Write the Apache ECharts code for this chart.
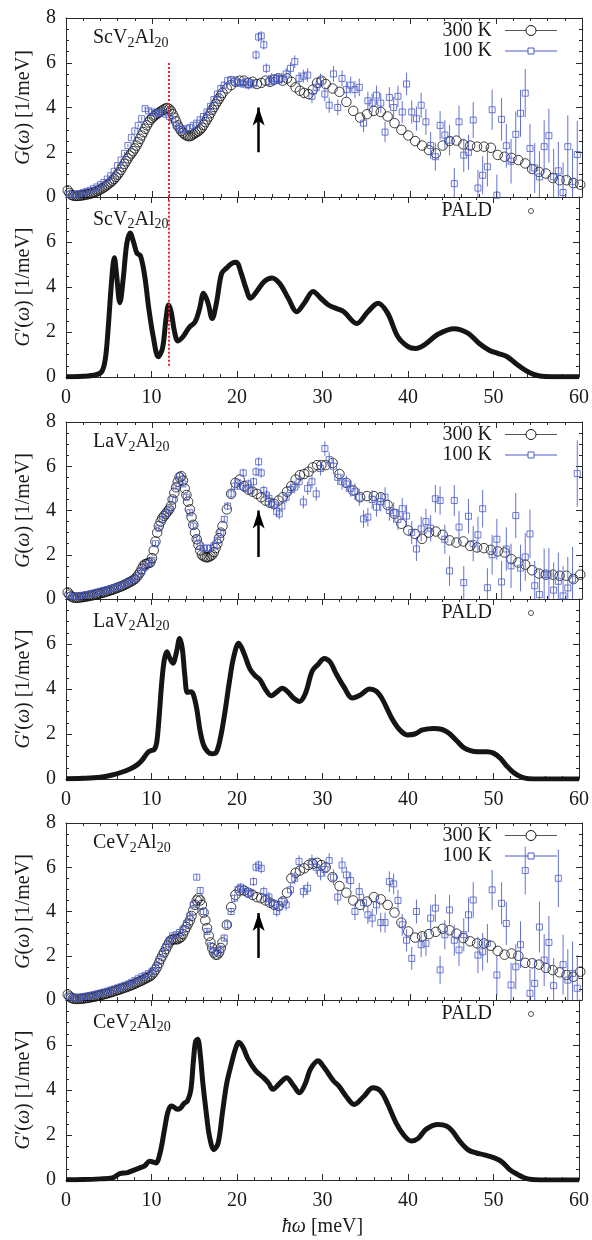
<!DOCTYPE html>
<html><head><meta charset="utf-8">
<script src="https://cdn.jsdelivr.net/npm/echarts@6/dist/echarts.min.js"></script>
<style>html,body{margin:0;padding:0;background:#fff}#c{width:592px;height:1240px}</style>
</head><body><div id="c"></div>
<script>
// ---------- DATA ----------
const compoundNames = ['ScV2Al20', 'LaV2Al20', 'CeV2Al20'];
const legend300 = '300 K', legend100 = '100 K', legendPald = 'PALD';
const xTicks = [0, 10, 20, 30, 40, 50, 60];
const yTicks = [0, 2, 4, 6, 8];

// 300 K energies (meV)
const E300 = [0.2,0.4,0.6,0.8,1.0,1.2,1.4,1.6,1.8,2.0,
 2.2,2.4,2.6,2.8,3.0,3.2,3.4,3.6,3.8,4.0,
 4.2,4.4,4.6,4.8,5.0,5.2,5.4,5.6,5.8,6.0,
 6.2,6.4,6.6,6.8,7.0,7.2,7.4,7.6,7.8,8.0,
 8.2,8.4,8.6,8.8,9.0,9.2,9.4,9.6,9.8,10.0,
 10.2,10.4,10.6,10.8,11.0,11.2,11.4,11.6,11.8,12.0,
 12.2,12.4,12.6,12.8,13.0,13.2,13.4,13.6,13.8,14.0,
 14.2,14.4,14.6,14.8,15.0,15.2,15.4,15.6,15.8,16.0,
 16.2,16.4,16.6,16.8,17.0,17.2,17.4,17.6,17.8,18.0,
 18.2,18.7,19.2,19.7,20.2,
 20.7,21.2,21.7,22.2,22.7,23.2,23.7,24.2,24.7,25.2,
 25.7,26.2,26.7,27.2,27.7,28.2,28.7,29.2,29.7,30.2,
 31.0,31.8,32.6,33.4,34.2,35.0,35.8,36.6,37.4,38.2,
 39.0,39.8,40.6,41.4,42.2,43.0,43.8,44.6,45.4,46.2,
 47.0,47.8,48.6,49.4,50.2,51.0,51.8,52.6,53.4,54.2,
 55.0,55.8,56.6,57.4,58.2,59.0,59.8];

const sc300 = [0.3,0.18,0.1,0.07,0.05,0.05,0.05,0.06,0.07,0.08,
 0.1,0.11,0.13,0.15,0.17,0.2,0.22,0.26,0.3,0.34,
 0.38,0.43,0.48,0.54,0.6,0.66,0.73,0.81,0.9,1.0,
 1.1,1.22,1.35,1.48,1.6,1.73,1.85,1.95,2.05,2.17,
 2.3,2.45,2.6,2.75,2.9,3.05,3.2,3.33,3.45,3.53,
 3.6,3.66,3.72,3.77,3.82,3.87,3.92,3.96,3.98,3.93,
 3.85,3.7,3.55,3.38,3.2,3.07,2.95,2.87,2.8,2.75,
 2.72,2.72,2.75,2.8,2.85,2.9,2.95,3.02,3.1,3.22,
 3.35,3.47,3.6,3.75,3.9,4.02,4.15,4.28,4.4,4.52,
 4.65,4.85,5.0,5.15,5.2,
 5.2,5.1,5.15,5.05,5.1,5.2,5.15,5.25,5.3,5.2,
 5.3,5.15,4.9,4.75,4.65,4.6,4.8,5.1,5.2,5.05,
 4.85,4.7,4.25,3.85,3.55,3.7,3.85,3.8,3.6,3.3,
 3.0,2.75,2.5,2.3,2.1,1.95,2.3,2.5,2.52,2.35,
 2.3,2.25,2.25,2.2,1.88,1.8,1.75,1.65,1.5,1.25,
 1.12,1.05,0.85,0.75,0.75,0.62,0.55];

const la300 = [0.3,0.2,0.12,0.08,0.06,0.06,0.06,0.07,0.08,0.09,
 0.1,0.12,0.13,0.15,0.16,0.18,0.2,0.22,0.24,0.26,
 0.28,0.3,0.32,0.35,0.37,0.4,0.42,0.45,0.48,0.51,
 0.54,0.57,0.6,0.64,0.68,0.72,0.76,0.8,0.85,0.9,
 0.98,1.08,1.2,1.35,1.5,1.57,1.6,1.62,1.65,1.85,
 2.2,2.6,3.0,3.3,3.5,3.65,3.75,3.85,3.95,4.05,
 4.2,4.5,4.8,5.05,5.3,5.5,5.55,5.35,5.0,4.7,
 4.4,4.05,3.7,3.35,3.0,2.7,2.45,2.2,2.0,1.93,
 1.9,1.88,1.9,1.94,2.0,2.12,2.3,2.5,2.75,3.0,
 3.3,4.05,4.75,5.25,5.4,
 5.1,4.95,4.85,4.75,4.6,4.45,4.35,4.3,4.45,4.6,
 4.85,5.1,5.4,5.6,5.65,5.75,5.95,6.05,6.05,6.05,
 6.15,5.65,5.25,4.9,4.6,4.65,4.65,4.6,4.25,3.85,
 3.4,3.1,2.94,2.72,3.0,3.05,2.9,2.65,2.55,2.6,
 2.4,2.33,2.3,2.22,2.15,2.1,1.8,1.65,1.55,1.3,
 1.15,1.1,1.1,1.05,1.05,0.9,1.1];

const ce300 = [0.25,0.16,0.1,0.07,0.05,0.05,0.05,0.05,0.06,0.07,
 0.08,0.09,0.1,0.12,0.13,0.15,0.16,0.18,0.2,0.22,
 0.24,0.26,0.28,0.3,0.32,0.35,0.37,0.4,0.42,0.45,
 0.47,0.5,0.53,0.56,0.58,0.61,0.64,0.67,0.7,0.74,
 0.77,0.81,0.85,0.88,0.92,0.96,1.0,1.04,1.08,1.15,
 1.25,1.37,1.5,1.67,1.85,2.0,2.15,2.3,2.45,2.6,
 2.7,2.74,2.75,2.74,2.75,2.8,2.85,2.98,3.15,3.3,
 3.45,3.6,3.8,4.05,4.3,4.5,4.6,4.5,4.3,3.95,
 3.6,3.25,2.9,2.6,2.35,2.15,2.05,2.05,2.15,2.35,
 2.6,3.4,4.2,4.75,4.95,
 4.95,4.85,4.75,4.65,4.6,4.5,4.4,4.3,4.25,4.45,
 4.85,5.5,5.75,5.85,5.95,6.1,6.15,6.2,6.1,6.0,
 5.55,5.15,4.85,4.5,4.3,4.45,4.65,4.55,4.3,3.95,
 3.5,3.1,2.82,2.88,2.98,3.08,3.22,3.15,3.0,2.8,
 2.65,2.56,2.56,2.45,2.22,2.05,2.1,2.0,1.68,1.66,
 1.6,1.45,1.35,1.25,1.13,1.05,1.28];

// 100 K energies (meV) and error bars
const E100 = [0.4,0.8,1.2,1.6,2.0,2.4,2.8,3.2,3.6,4.0,
 4.4,4.8,5.2,5.6,6.0,6.4,6.8,7.2,7.6,8.0,
 8.4,8.8,9.2,9.6,10.0,10.4,10.8,11.2,11.6,12.0,
 12.4,12.8,13.2,13.6,14.0,14.4,14.8,15.2,15.6,16.0,
 16.4,16.8,17.2,17.6,18.0,18.4,18.8,19.2,19.6,20.0,
 20.3,20.6,20.9,21.2,21.5,21.8,22.1,22.4,22.7,23.0,
 23.3,23.6,23.9,24.2,24.5,24.8,25.1,
 25.6,26.1,26.6,27.1,27.6,28.1,28.6,29.1,29.6,30.1,
 30.6,31.1,31.6,32.1,32.6,33.1,33.6,34.1,34.6,35.1,
 35.6,36.1,36.6,37.1,37.6,38.1,38.6,39.1,39.6,
 40.2,40.75,41.3,41.85,42.4,42.95,43.5,44.05,44.6,45.15,
 45.7,46.25,46.8,47.35,47.9,48.45,49.0,49.55,50.1,50.65,
 51.2,51.75,52.3,52.85,53.4,53.95,54.5,55.05,55.6,56.15,
 56.7,57.25,57.8,58.35,58.9,59.45];

const err100 = [0.04,0.04,0.04,0.04,0.04,0.05,0.05,0.05,0.05,0.05,
 0.06,0.06,0.06,0.06,0.07,0.07,0.07,0.07,0.08,0.08,
 0.08,0.08,0.09,0.09,0.09,0.1,0.1,0.1,0.1,0.11,
 0.11,0.11,0.12,0.12,0.12,0.13,0.13,0.13,0.14,0.14,
 0.14,0.15,0.15,0.15,0.16,0.16,0.17,0.17,0.18,0.18,
 0.18,0.19,0.19,0.2,0.2,0.2,0.21,0.21,0.22,0.22,
 0.22,0.23,0.23,0.24,0.24,0.25,0.25,
 0.26,0.27,0.28,0.28,0.29,0.3,0.31,0.31,0.32,0.33,
 0.34,0.35,0.35,0.36,0.37,0.38,0.38,0.39,0.4,0.41,
 0.42,0.43,0.44,0.45,0.46,0.47,0.48,0.49,0.5,
 0.52,0.54,0.56,0.58,0.6,0.62,0.64,0.66,0.68,0.7,
 0.72,0.75,0.78,0.8,0.82,0.85,0.88,0.9,0.92,0.95,
 0.98,1.0,1.02,1.05,1.08,1.1,1.12,1.15,1.18,1.2,
 1.25,1.3,1.35,1.4,1.45,1.5];

const sc100 = [0.12,0.1,0.12,0.15,0.2,0.25,0.3,0.37,0.45,0.55,
 0.65,0.8,0.95,1.15,1.4,1.65,1.95,2.3,2.65,2.95,
 3.2,3.5,3.95,3.85,3.8,3.75,3.75,3.8,3.7,3.6,
 3.45,3.2,3.05,3.0,3.05,3.1,3.2,3.3,3.45,3.6,
 3.8,4.05,4.35,4.6,4.85,5.0,5.2,5.25,5.15,5.1,
 5.1,5.05,5.15,5.0,5.1,5.05,6.35,7.15,7.2,6.8,
 5.75,5.15,5.3,5.2,5.3,5.25,5.3,
 5.5,5.75,6.05,5.3,5.4,5.45,4.5,4.9,5.2,4.6,
 4.1,5.5,4.0,5.3,4.8,5.0,4.8,4.9,3.3,4.3,
 4.2,4.55,4.2,2.9,4.45,4.0,4.5,3.8,5.05,
 3.8,3.5,4.1,3.36,2.3,1.8,3.2,2.77,2.54,0.6,
 3.36,1.87,2.0,3.44,0.4,0.97,1.35,3.9,0.08,3.47,
 2.29,1.6,2.8,3.74,4.64,2.17,1.3,0.9,2.25,2.74,
 0.9,1.17,0.2,2.25,0.7,1.9];

const la100 = [0.15,0.12,0.12,0.14,0.17,0.2,0.23,0.27,0.31,0.35,
 0.39,0.43,0.47,0.52,0.57,0.62,0.68,0.75,0.82,0.92,
 1.05,1.25,1.45,1.6,1.75,2.5,3.2,3.6,3.85,4.05,
 4.5,5.1,5.55,5.2,4.6,3.9,3.3,2.75,2.4,2.3,
 2.3,2.3,2.4,2.65,3.0,3.6,4.2,4.75,5.1,5.25,
 5.1,5.7,5.0,5.2,4.9,5.3,5.75,6.2,5.7,4.9,
 4.7,4.55,4.3,4.25,3.95,3.85,4.2,
 4.6,4.95,5.06,5.3,4.38,5.0,5.3,4.75,5.9,6.8,
 6.3,6.0,5.5,5.3,5.2,5.0,4.85,4.6,3.62,3.7,
 4.5,4.15,4.4,4.6,4.0,3.9,3.6,4.08,3.75,
 3.0,2.26,3.17,3.5,3.2,4.53,4.45,2.7,1.27,4.45,
 3.25,0.74,3.74,2.5,2.9,4.08,0.51,2.0,2.7,0.77,
 2.26,1.5,3.77,1.4,1.9,2.94,0.6,0.2,1.1,1.1,
 0.4,0.8,0.14,0.5,0.9,5.67];

const ce100 = [0.15,0.1,0.1,0.12,0.15,0.18,0.21,0.24,0.28,0.32,
 0.36,0.4,0.45,0.5,0.55,0.6,0.66,0.72,0.8,0.88,
 0.96,1.05,1.12,1.2,1.3,1.45,1.75,2.1,2.4,2.7,
 2.9,2.95,3.05,3.2,3.45,3.8,4.3,5.55,4.95,4.0,
 3.1,2.45,2.2,2.15,2.3,2.8,3.4,4.0,4.6,5.0,
 5.1,5.0,4.9,4.8,4.85,5.35,6.0,6.1,5.95,4.9,
 4.6,4.65,4.4,4.3,4.0,4.2,4.45,
 4.3,4.98,5.5,6.26,4.9,5.05,6.26,6.0,5.73,5.9,
 6.3,5.55,4.65,6.1,5.65,5.4,4.0,4.9,4.4,3.85,
 3.7,4.3,3.5,3.5,5.35,5.25,4.5,3.4,2.7,
 1.88,4.0,2.5,2.56,3.7,4.15,1.36,2.95,4.07,2.7,
 2.26,2.95,3.85,4.52,2.03,2.18,2.56,4.98,1.13,4.37,
 3.46,0.68,1.5,2.5,5.85,0.3,0.75,3.3,1.8,2.6,
 0.65,5.5,1.6,0.9,1.2,0.53];

// PALD calculated G'(w)
const scPaldE = [0,2.0,3.5,4.2,4.6,4.9,5.2,5.5,5.65,5.9,6.3,6.7,7.1,7.5,7.9,8.3,8.7,9.2,9.7,10.2,
 10.8,11.3,11.7,12.0,12.3,12.7,13.1,13.7,14.4,15.1,15.6,16.1,16.6,17.1,17.6,18.2,18.8,19.4,19.9,20.5,
 21.0,21.6,22.3,23.2,24.1,25.0,26.0,27.0,27.9,28.9,29.8,30.7,31.6,32.5,34.0,35.3,36.5,37.6,38.8,40.0,
 40.9,42.0,43.5,45.4,47.0,48.3,49.5,50.5,51.6,52.6,53.8,54.8,56.0,58.0,60.0];
const scPaldG = [0.01,0.03,0.1,0.25,0.8,2.0,3.6,5.0,5.3,4.6,3.3,4.4,5.9,6.4,6.0,5.5,5.4,4.5,3.0,1.8,
 0.9,1.3,2.6,3.2,2.9,2.0,1.6,1.8,2.2,2.45,3.0,3.72,3.3,2.6,3.3,4.6,4.85,5.05,5.1,4.6,
 4.0,3.5,3.8,4.25,4.4,4.15,3.5,2.9,3.3,3.8,3.5,3.2,3.05,2.9,2.38,2.9,3.28,2.85,1.8,1.35,
 1.27,1.45,1.9,2.15,1.95,1.5,1.19,1.05,0.9,0.6,0.28,0.1,0.02,0.01,0.01];

const laPaldE = [0,2,4,5.4,6.5,7.6,8.4,8.9,9.4,9.7,10.0,10.3,10.6,10.9,11.2,11.5,11.8,12.1,12.5,12.9,
 13.3,13.6,13.9,14.2,14.6,14.9,15.3,15.7,16.1,16.6,17.1,17.6,18.1,18.6,19.1,19.6,20.2,20.8,21.5,22.1,
 22.7,23.3,24.0,24.6,25.3,26.0,26.6,27.3,28.0,28.8,29.5,30.2,30.9,31.5,32.5,33.5,34.5,35.5,36.3,37.0,
 38.1,39.0,39.9,40.8,41.7,43.0,44.0,44.8,45.7,46.5,47.3,48.1,49.2,50.0,50.8,51.5,52.3,53.2,54.1,55.5,58,60];
const laPaldG = [0.01,0.03,0.08,0.18,0.3,0.47,0.65,0.84,1.1,1.22,1.27,1.3,1.6,2.8,4.3,5.3,5.66,5.4,5.15,5.6,
 6.25,5.8,4.6,3.85,3.88,3.75,3.1,2.1,1.5,1.2,1.12,1.2,1.9,3.0,4.3,5.4,6.03,5.6,4.9,4.6,
 4.4,4.0,3.7,3.85,4.03,3.85,3.6,3.45,3.8,4.8,5.1,5.36,5.2,4.75,4.1,3.6,3.75,4.0,3.9,3.55,
 2.7,2.2,1.96,2.0,2.18,2.25,2.2,2.03,1.7,1.4,1.26,1.21,1.21,1.15,0.92,0.6,0.3,0.1,0.01,0.0,0.0,0.0];

const cePaldE = [0,2,4,5.4,6.3,7.2,8.1,8.7,9.2,9.8,10.5,11.0,11.5,11.9,12.3,12.6,13.0,13.4,13.8,14.2,
 14.6,14.9,15.15,15.4,15.7,16.0,16.4,16.8,17.3,17.8,18.3,18.8,19.3,19.8,20.2,20.7,21.3,22.2,23.1,23.7,
 24.2,25.0,25.8,26.6,27.3,28.0,28.6,29.5,30.0,30.6,31.3,31.9,32.8,33.7,34.8,35.9,36.8,37.6,38.6,39.5,
 40.4,41.2,42.1,43.5,44.5,45.2,46.0,47.0,48.0,48.8,50.1,51.0,51.9,52.8,53.6,54.5,55.5,58,60];
const cePaldG = [0.01,0.02,0.05,0.09,0.28,0.33,0.46,0.55,0.63,0.83,0.76,1.2,2.2,3.0,3.29,3.25,3.14,3.2,3.4,3.51,
 4.0,5.3,6.15,6.26,5.6,4.33,3.0,1.9,1.35,1.65,3.0,4.3,5.1,5.8,6.12,5.9,5.37,4.85,4.55,4.3,
 4.03,4.3,4.55,4.2,3.88,4.3,4.93,5.3,5.1,4.78,4.4,4.18,3.7,3.36,3.7,4.1,3.95,3.4,2.54,2.0,
 1.73,1.85,2.25,2.47,2.4,2.17,1.75,1.35,1.2,1.13,0.98,0.8,0.46,0.25,0.1,0.02,0.0,0.0,0.0];

// annotations (meV / 1/meV)
const arrowE = [22.4, 22.4, 22.4];
const arrowFrom = [2.0, 1.9, 1.9];
const arrowTo = [4.0, 4.0, 3.93];
const markerE = 12.0;          // red dotted line, ScV2Al20 only
const markerTopG = 6.0;
const markerBottomP = 0.5;

// ---------- STYLE / LAYOUT ----------
const SERIF = "'Liberation Serif', 'DejaVu Serif', serif";
const BLUE = '#4a5bc6';
const INK = '#1a1a1a';
const GRIDS = [
  {top: 18, height: 179}, {top: 197, height: 180},
  {top: 422, height: 177}, {top: 599, height: 180},
  {top: 823, height: 177}, {top: 1000, height: 180}
];
const LEFT = 66, RIGHT = 10;

const sets = [
  {g300: sc300, g100: sc100, pE: scPaldE, pG: scPaldG},
  {g300: la300, g100: la100, pE: laPaldE, pG: laPaldG},
  {g300: ce300, g100: ce100, pE: cePaldE, pG: cePaldG}
];

const grid = GRIDS.map(g => ({left: LEFT, right: RIGHT, top: g.top, height: g.height, containLabel: false}));

const tickCommon = {
  axisLine: {show: true, onZero: false, lineStyle: {color: '#2a2a2a', width: 1}},
  axisTick: {show: true, inside: true, length: 6, lineStyle: {color: '#2a2a2a', width: 1}},
  splitLine: {show: false}
};
const xAxis = [], yAxis = [];
GRIDS.forEach((g, i) => {
  const isP = i % 2 === 1;
  const xb = Object.assign({}, tickCommon, {
    type: 'value', gridIndex: i, position: 'bottom', min: xTicks[0], max: xTicks[xTicks.length - 1], interval: 10,
    minorTick: {show: true, splitNumber: 5, length: 3, lineStyle: {color: '#2a2a2a', width: 1}},
    axisLabel: {show: isP, margin: 11, fontFamily: SERIF, fontSize: 20, color: INK}
  });
  if (i === 5) {
    xb.name = '{i|ħω} [meV]';
    xb.nameLocation = 'middle';
    xb.nameGap = 37;
    xb.nameTextStyle = {fontFamily: SERIF, fontSize: 20, color: INK,
      rich: {i: {fontFamily: SERIF, fontSize: 20, fontStyle: 'italic', color: INK}}};
  }
  xAxis.push(xb);
  xAxis.push(Object.assign({}, tickCommon, {
    type: 'value', gridIndex: i, position: 'top', min: 0, max: 60, interval: 10,
    minorTick: {show: true, splitNumber: 5, length: 3, lineStyle: {color: '#2a2a2a', width: 1}},
    axisLabel: {show: false}
  }));
  yAxis.push(Object.assign({}, tickCommon, {
    type: 'value', gridIndex: i, position: 'left', min: yTicks[0], max: yTicks[yTicks.length - 1], interval: 2,
    minorTick: {show: true, splitNumber: 4, length: 3, lineStyle: {color: '#2a2a2a', width: 1}},
    axisLabel: {show: true, margin: 10, fontFamily: SERIF, fontSize: 20, color: INK,
      formatter: v => (isP && v === 8) ? '' : String(v)},
    name: isP ? '{i|G}′({i|ω}) [1/meV]' : '{i|G}({i|ω}) [1/meV]',
    nameLocation: 'middle', nameGap: 32,
    nameTextStyle: {fontFamily: SERIF, fontSize: 20, color: INK,
      rich: {i: {fontFamily: SERIF, fontSize: 20, fontStyle: 'italic', color: INK}}}
  }));
  yAxis.push(Object.assign({}, tickCommon, {
    type: 'value', gridIndex: i, position: 'right', min: 0, max: 8, interval: 2,
    minorTick: {show: true, splitNumber: 4, length: 3, lineStyle: {color: '#2a2a2a', width: 1}},
    axisLabel: {show: false}
  }));
});

function errRender(params, api) {
  const x = api.value(0), v = api.value(1), e = api.value(2);
  const lo = Math.max(v - e, 0), hi = Math.min(v + e, 8);
  if (hi <= lo) return null;
  const p1 = api.coord([x, lo]), p2 = api.coord([x, hi]);
  return {type: 'line', shape: {x1: p1[0], y1: p1[1], x2: p2[0], y2: p2[1]},
    style: {stroke: BLUE, lineWidth: 1, opacity: 0.85}};
}

const series = [];
sets.forEach((s, k) => {
  const gi = 2 * k, pi = 2 * k + 1;
  series.push({
    type: 'scatter', name: legend300, xAxisIndex: 2 * gi, yAxisIndex: 2 * gi,
    data: E300.map((e, j) => [e, s.g300[j]]),
    symbol: 'circle', symbolSize: 9.5, clip: true, silent: true, z: 2,
    itemStyle: {color: 'rgba(0,0,0,0)', borderColor: '#111', borderWidth: 1},
    markLine: {
      silent: true, symbol: ['none', 'arrow'], symbolSize: [9, 18], animation: false,
      label: {show: false}, emphasis: {disabled: true},
      lineStyle: {color: '#000', width: 2.5, type: 'solid'},
      data: [[{coord: [arrowE[k], arrowFrom[k]]}, {coord: [arrowE[k], arrowTo[k]]}]]
    }
  });
  series.push({
    type: 'custom', name: legend100 + ' err', xAxisIndex: 2 * gi, yAxisIndex: 2 * gi,
    data: E100.map((e, j) => [e, s.g100[j], err100[j]]),
    encode: {x: 0, y: 1}, renderItem: errRender, silent: true, z: 3
  });
  const s100 = {
    type: 'scatter', name: legend100, xAxisIndex: 2 * gi, yAxisIndex: 2 * gi,
    data: E100.map((e, j) => [e, s.g100[j]]),
    symbol: 'rect', symbolSize: 6, clip: true, silent: true, z: 4,
    itemStyle: {color: 'rgba(255,255,255,0)', borderColor: BLUE, borderWidth: 1}
  };
  if (k === 0) {
    s100.markLine = {
      silent: true, symbol: ['none', 'none'], animation: false, label: {show: false},
      lineStyle: {color: '#e8281e', width: 2, type: [2, 2]},
      data: [[{coord: [markerE, 0]}, {coord: [markerE, markerTopG]}]]
    };
  }
  series.push(s100);
  const pald = {
    type: 'line', name: legendPald, xAxisIndex: 2 * pi, yAxisIndex: 2 * pi,
    data: s.pE.map((e, j) => [e, s.pG[j]]),
    showSymbol: false, symbol: 'none', smooth: 0.35, clip: true, silent: true,
    lineStyle: {color: '#151515', width: 5}
  };
  if (k === 0) {
    pald.markLine = {
      silent: true, symbol: ['none', 'none'], animation: false, label: {show: false},
      lineStyle: {color: '#e8281e', width: 2, type: [2, 2]},
      data: [[{coord: [markerE, markerBottomP]}, {coord: [markerE, 8]}]]
    };
  }
  series.push(pald);
});

// legends and labels (decorations)
const graphic = [];
const TXT_R = 492, L1 = 505, L2 = 557, LM = 531;
sets.forEach((s, k) => {
  const T = GRIDS[2 * k].top, TP = GRIDS[2 * k + 1].top;
  const y1 = T + 12.5, y2 = T + 33;
  graphic.push({type: 'text', x: TXT_R, y: y1, z: 100, style: {text: legend300, font: '20px ' + SERIF, fill: INK, align: 'right', verticalAlign: 'middle'}});
  graphic.push({type: 'line', z: 100, shape: {x1: L1, y1: y1, x2: L2, y2: y1}, style: {stroke: '#555', lineWidth: 1}});
  graphic.push({type: 'circle', z: 101, shape: {cx: LM, cy: y1, r: 5}, style: {fill: '#fff', stroke: '#111', lineWidth: 1}});
  graphic.push({type: 'text', x: TXT_R, y: y2, z: 100, style: {text: legend100, font: '20px ' + SERIF, fill: INK, align: 'right', verticalAlign: 'middle'}});
  graphic.push({type: 'line', z: 100, shape: {x1: L1, y1: y2, x2: L2, y2: y2}, style: {stroke: BLUE, lineWidth: 1}});
  graphic.push({type: 'rect', z: 101, shape: {x: LM - 3, y: y2 - 3, width: 6, height: 6}, style: {fill: '#fff', stroke: BLUE, lineWidth: 1}});
  graphic.push({type: 'text', x: TXT_R, y: TP + 14, z: 100, style: {text: legendPald, font: '20px ' + SERIF, fill: INK, align: 'right', verticalAlign: 'middle'}});
  graphic.push({type: 'circle', z: 101, shape: {cx: LM, cy: TP + 14, r: 2.5}, style: {fill: 'none', stroke: '#555', lineWidth: 1}});
  const nm = compoundNames[k];
  const base = nm.slice(0, 3), rich = '{n|' + base + '}{s|2}{n|Al}{s|20}';
  const richStyle = {
    n: {fontFamily: SERIF, fontSize: 20, lineHeight: 24, fill: INK},
    s: {fontFamily: SERIF, fontSize: 14, lineHeight: 12, verticalAlign: 'bottom', fill: INK}
  };
  graphic.push({type: 'text', x: 93, y: T + 8, z: 100, style: {text: rich, rich: richStyle, fill: INK, verticalAlign: 'top'}});
  graphic.push({type: 'text', x: 93, y: TP + 10.5, z: 100, style: {text: rich, rich: richStyle, fill: INK, verticalAlign: 'top'}});
});

const chart = echarts.init(document.getElementById('c'), null, {renderer: 'canvas'});
chart.setOption({
  animation: false,
  backgroundColor: '#fff',
  grid, xAxis, yAxis, series, graphic
});
</script></body></html>
